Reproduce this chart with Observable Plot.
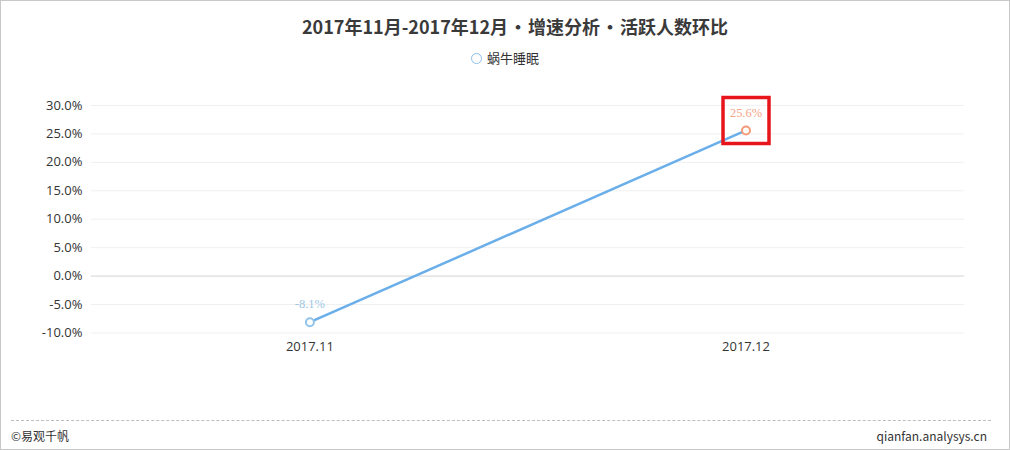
<!DOCTYPE html>
<html><head><meta charset="utf-8">
<script src="https://cdn.jsdelivr.net/npm/d3@7"></script>
<script src="https://cdn.jsdelivr.net/npm/@observablehq/plot@0.6"></script>
<style>
html,body{margin:0;padding:0;background:#fff;}
#wrap{position:relative;width:1010px;height:450px;box-sizing:border-box;border:1px solid #c8c8c8;font-family:"Noto Sans CJK SC","Noto Sans",sans-serif;overflow:hidden;}
#title{position:absolute;top:12px;left:0;width:100%;padding-left:20px;box-sizing:border-box;text-align:center;font-size:18px;font-weight:bold;color:#3a3a3a;}
#legend{position:absolute;top:47px;left:0;width:100%;text-align:center;font-size:13px;color:#333;}
#legend .ic{display:inline-block;width:9px;height:9px;border:1.5px solid #8cc0ea;border-radius:50%;vertical-align:-1px;margin-right:5px;}
#chart{position:absolute;top:80px;left:0;}
#dash{position:absolute;top:419px;left:10px;width:980px;border-top:1px dashed #bdbdbd;}
#fl{position:absolute;top:426px;left:10px;font-size:12px;color:#333;}
#fr{position:absolute;top:426px;right:22px;font-size:12px;color:#333;}
</style></head>
<body>
<div id="wrap">
  <div id="title">2017年11月-2017年12月<span style="margin:0 1px">•</span>增速分析<span style="margin:0 1px">•</span>活跃人数环比</div>
  <div id="legend"><span class="ic"></span>蜗牛睡眠</div>
  <div id="chart"></div>
  <div id="dash"></div>
  <div id="fl">©易观千帆</div>
  <div id="fr">qianfan.analysys.cn</div>
</div>
<script>
const months = ["2017.11", "2017.12"];
const values = [-8.1, 25.6];
const pointColors = ["#92c3ea", "#f49a78"];
const labelColors = ["#9cc7e4", "#f4a385"];
const yTicks = [-10, -5, 0, 5, 10, 15, 20, 25, 30];
const highlight = ["2017.12"];

const data = months.map((m, i) => ({month: m, value: values[i], pc: pointColors[i], lc: labelColors[i]}));
const fmt = d => d.toFixed(1) + "%";

const chart = Plot.plot({
  width: 1010, height: 300,
  marginLeft: 90, marginRight: 45, marginTop: 24, marginBottom: 48,
  style: {fontFamily: "'Open Sans','Noto Sans',sans-serif", fontSize: "13px", color: "#333", background: "transparent"},
  x: {type: "point", domain: months, padding: 0.5, label: null},
  y: {domain: [-10, 30], label: null},
  marks: [
    Plot.ruleY(yTicks, {stroke: "#f0f0f0", strokeWidth: 1}),
    Plot.ruleY([0], {stroke: "#dcdcdc", strokeWidth: 1}),
    Plot.axisY({ticks: yTicks, tickFormat: fmt, tickSize: 0, tickPadding: 9, fontSize: 13, fill: "#333", label: null}),
    Plot.axisX({tickSize: 0, tickPadding: 9, fontSize: 13, fill: "#333", label: null}),
    Plot.line(data, {x: "month", y: "value", stroke: "#6aaeea", strokeWidth: 2.5}),
    Plot.dot(data, {x: "month", y: "value", r: 4, fill: "white", stroke: "pc", strokeWidth: 2}),
    Plot.text(data, {x: "month", y: "value", text: d => fmt(d.value), dy: -18, fill: "lc", fontSize: 12.5, fontFamily: "'Liberation Serif','DejaVu Serif',serif"}),
    Plot.dot(data.filter(d => highlight.includes(d.month)), {x: "month", y: "value", symbol: "square", r: 26, dy: -10, fill: "none", stroke: "#e8141c", strokeWidth: 3.5})
  ]
});
document.getElementById("chart").appendChild(chart);
</script>
</body></html>
